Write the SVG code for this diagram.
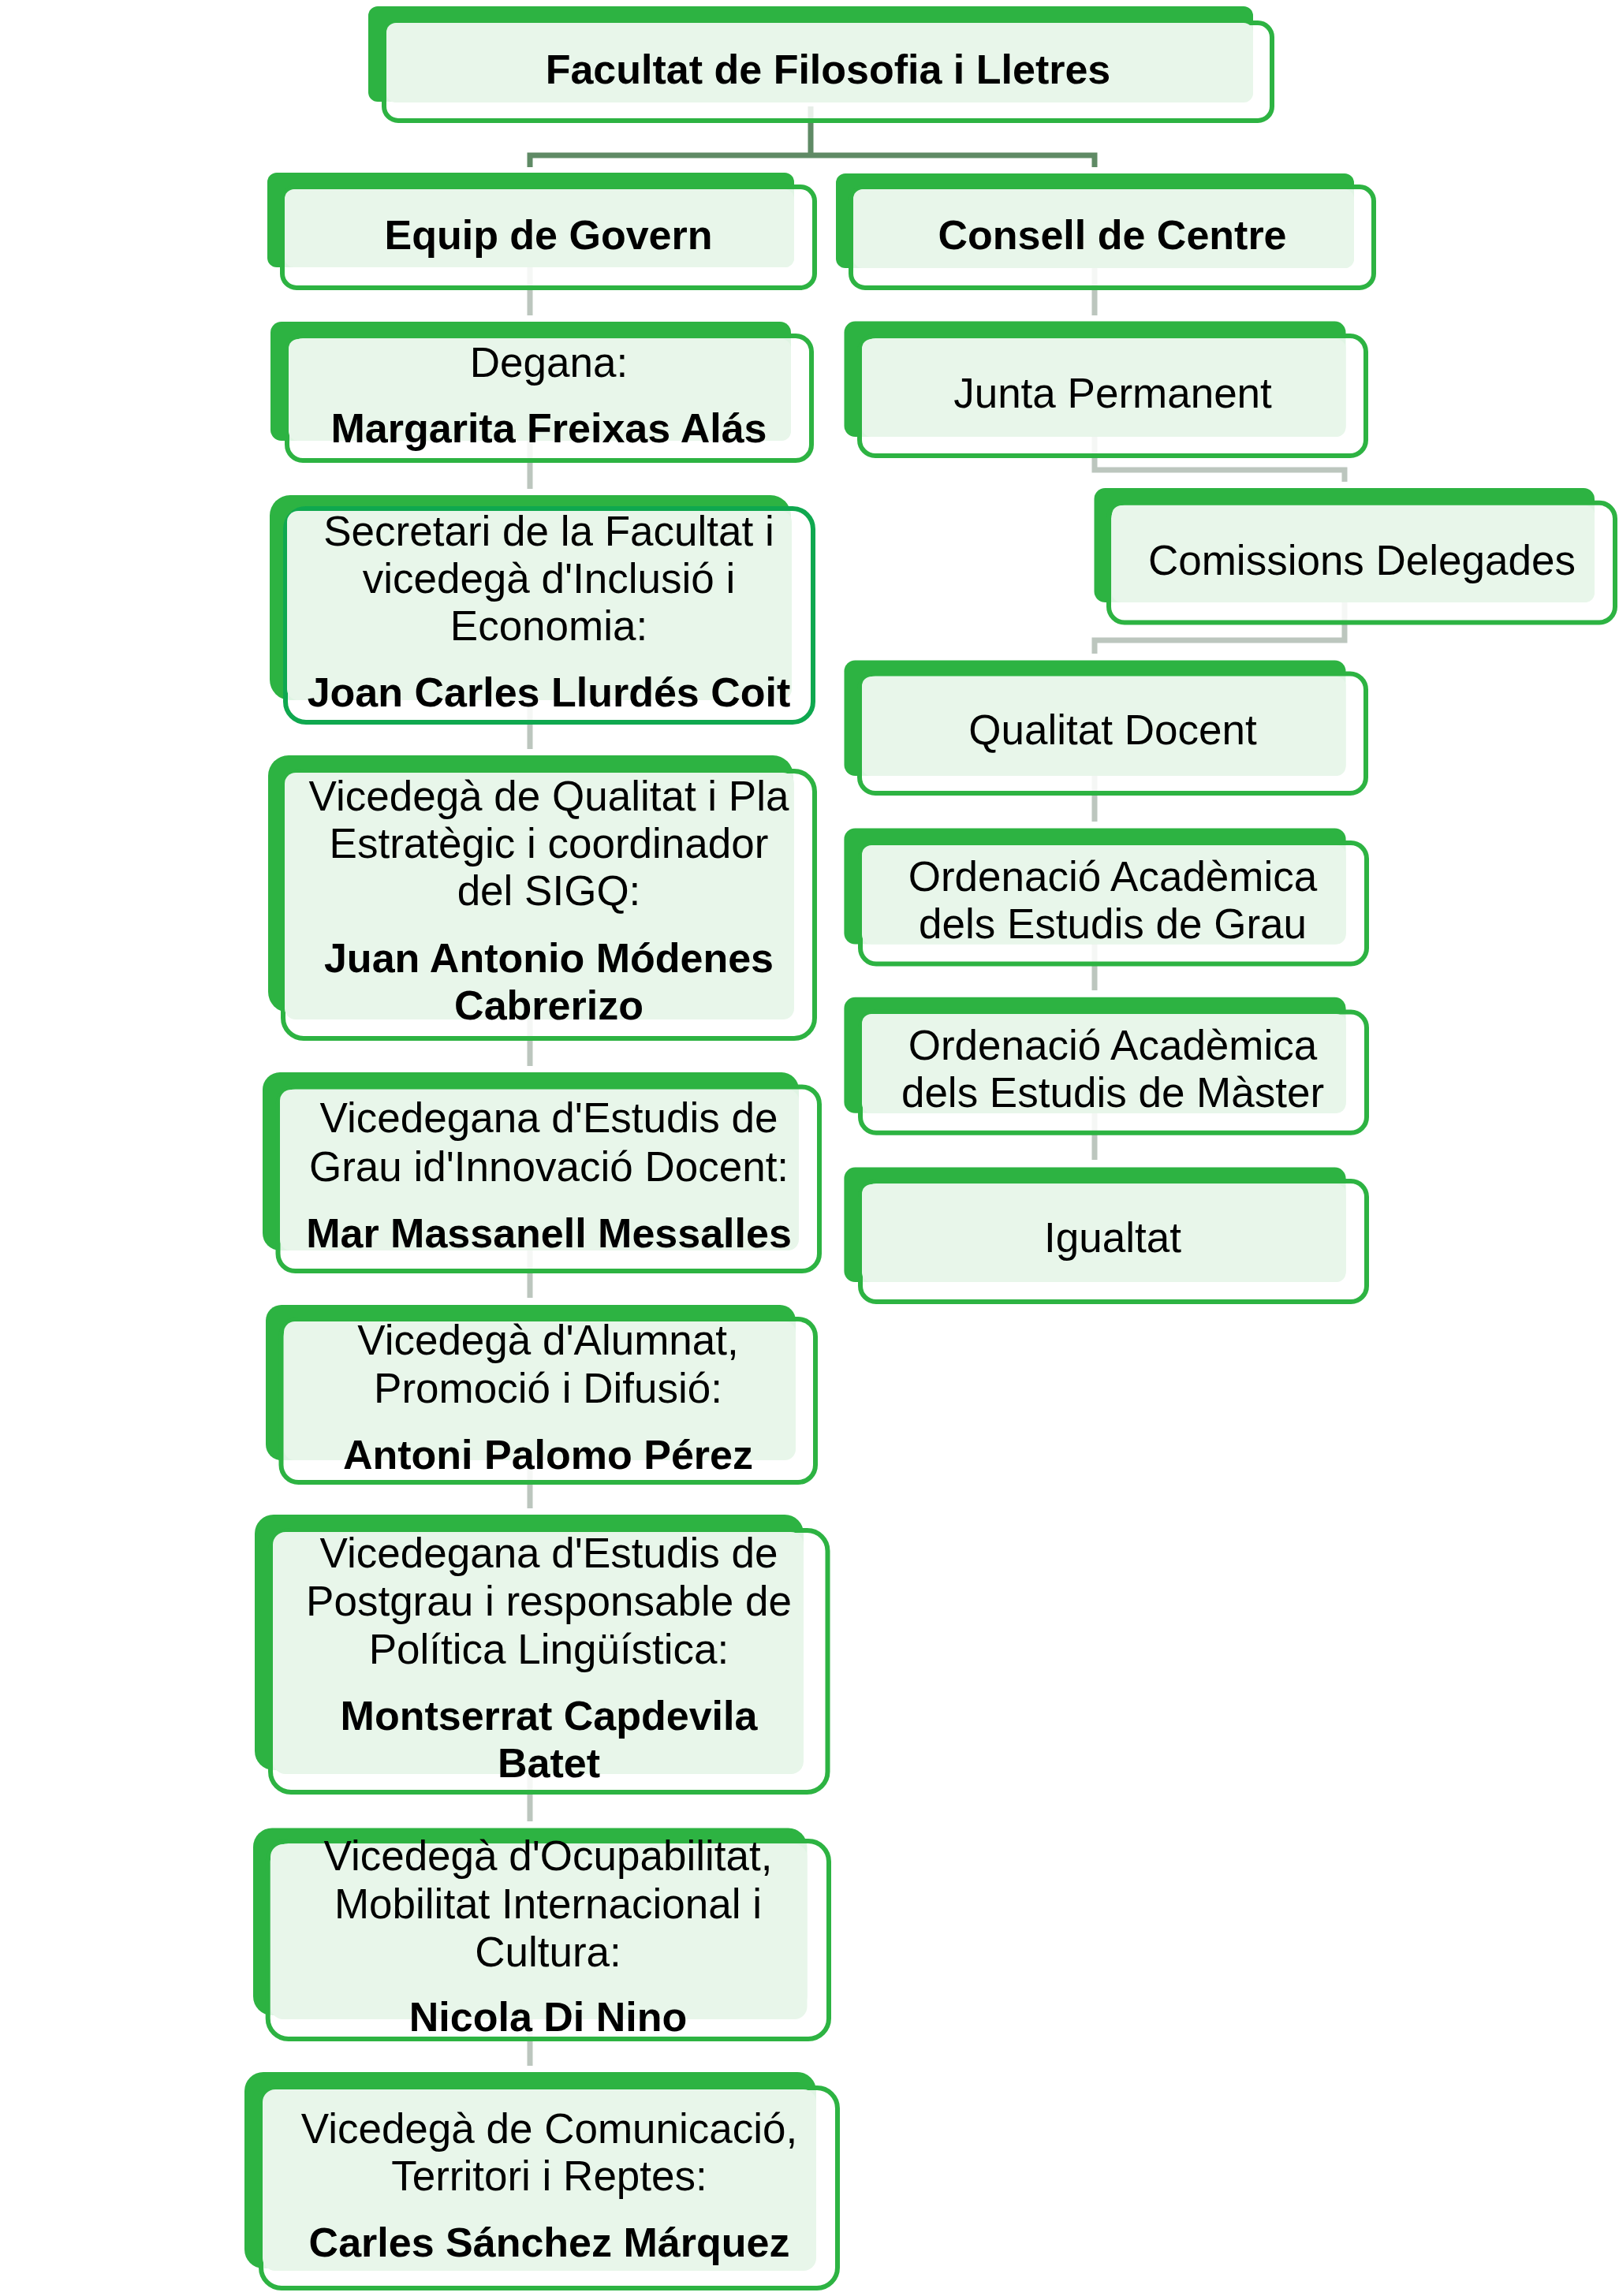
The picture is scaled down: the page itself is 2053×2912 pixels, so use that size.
<svg xmlns="http://www.w3.org/2000/svg" width="2053" height="2912" viewBox="0 0 2053 2912">
<style>
.d{fill:#2db342;}
.o{fill:#ffffff;fill-opacity:0.85;stroke:#2db342;stroke-width:6;}
.o2{fill:#ffffff;fill-opacity:0.85;stroke:#0fa84f;stroke-width:6;}
.l{fill:#e8f6ea;}
.t{font-family:"Liberation Sans",Arial,sans-serif;font-size:53px;fill:#000;text-anchor:middle;}
.b{font-weight:bold;font-size:52px;}
.c1{fill:none;stroke:#5f8a65;stroke-width:7;}
.c2{fill:none;stroke:#bcc6be;stroke-width:7;}
</style>
<rect width="2053" height="2912" fill="#ffffff"/>
<g id="connectors">
<path class="c1" d="M1028 135 V197 M672 212 V197 H1388 V212"/>
<path class="c2" d="M672 339 V400 M672 559 V620 M672 888 V950 M672 1290 V1352 M672 1586 V1646 M672 1852 V1913 M672 2250 V2310 M672 2561 V2620"/>
<path class="c2" d="M1388 340 V400 M1388 554 V596 H1705 V611 M1705 764 V812 H1388 V829 M1388 984 V1042 M1388 1197 V1256 M1388 1412 V1471"/>
</g>
<g id="n-facultat">
<rect class="d" x="467" y="8" width="1122" height="121" rx="12"/>
<rect class="o" x="487" y="29" width="1126" height="124" rx="18"/>
<rect class="l" x="490" y="29" width="1099" height="101" rx="12"/>
<text class="t b" x="1050" y="106">Facultat de Filosofia i Lletres</text>
</g>
<g id="n-equip">
<rect class="d" x="339" y="219" width="668" height="120" rx="12"/>
<rect class="o" x="358" y="237" width="675" height="128" rx="18"/>
<rect class="l" x="361" y="240" width="646" height="99" rx="12"/>
<text class="t b" x="695.5" y="316">Equip de Govern</text>
</g>
<g id="n-consell">
<rect class="d" x="1060" y="220" width="657" height="120" rx="12"/>
<rect class="o" x="1079" y="237" width="663" height="128" rx="18"/>
<rect class="l" x="1082" y="240" width="635" height="100" rx="12"/>
<text class="t b" x="1410.5" y="316">Consell de Centre</text>
</g>
<g id="n-degana">
<rect class="d" x="343" y="408" width="660" height="151" rx="14"/>
<rect class="o" x="364" y="426" width="665" height="158" rx="20"/>
<rect class="l" x="366" y="430" width="637" height="129" rx="12"/>
<text class="t" x="696" y="478">Degana:</text>
<text class="t b" x="696" y="561">Margarita Freixas Alás</text>
</g>
<g id="n-secretari">
<rect class="d" x="342" y="628" width="661" height="260" rx="26"/>
<rect class="o2" x="362" y="645" width="669" height="271" rx="26"/>
<rect class="l" x="364" y="648" width="640" height="240" rx="14"/>
<text class="t" x="696" y="692">Secretari de la Facultat i</text>
<text class="t" x="696" y="752">vicedegà d'Inclusió i</text>
<text class="t" x="696" y="812">Economia:</text>
<text class="t b" x="696" y="896">Joan Carles Llurdés Coit</text>
</g>
<g id="n-qualitat-pla">
<rect class="d" x="340" y="958" width="666" height="326" rx="26"/>
<rect class="o" x="359" y="978" width="674" height="339" rx="26"/>
<rect class="l" x="361" y="980" width="646" height="313" rx="14"/>
<text class="t" x="696" y="1028">Vicedegà de Qualitat i Pla</text>
<text class="t" x="696" y="1088">Estratègic i coordinador</text>
<text class="t" x="696" y="1148">del SIGQ:</text>
<text class="t b" x="696" y="1233">Juan Antonio Módenes</text>
<text class="t b" x="696" y="1293">Cabrerizo</text>
</g>
<g id="n-grau">
<rect class="d" x="333" y="1360" width="680" height="226" rx="22"/>
<rect class="o" x="352.5" y="1378.5" width="686.5" height="233.5" rx="22"/>
<rect class="l" x="355" y="1382" width="658" height="204" rx="14"/>
<text class="t" x="696" y="1436">Vicedegana d'Estudis de</text>
<text class="t" x="696" y="1498">Grau id'Innovació Docent:</text>
<text class="t b" x="696" y="1582">Mar Massanell Messalles</text>
</g>
<g id="n-alumnat">
<rect class="d" x="337" y="1655" width="672" height="197" rx="20"/>
<rect class="o" x="356.5" y="1673" width="677.5" height="207" rx="22"/>
<rect class="l" x="360" y="1676" width="649" height="176" rx="14"/>
<text class="t" x="695" y="1718">Vicedegà d'Alumnat,</text>
<text class="t" x="695" y="1779">Promoció i Difusió:</text>
<text class="t b" x="695" y="1863">Antoni Palomo Pérez</text>
</g>
<g id="n-postgrau">
<rect class="d" x="323" y="1921" width="696" height="324" rx="24"/>
<rect class="o" x="343" y="1941" width="706.5" height="332" rx="26"/>
<rect class="l" x="346" y="1943" width="673" height="307" rx="16"/>
<text class="t" x="696" y="1988">Vicedegana d'Estudis de</text>
<text class="t" x="696" y="2049">Postgrau i responsable de</text>
<text class="t" x="696" y="2110">Política Lingüística:</text>
<text class="t b" x="696" y="2194">Montserrat Capdevila</text>
<text class="t b" x="696" y="2254">Batet</text>
</g>
<g id="n-ocupabilitat">
<rect class="d" x="321" y="2318.5" width="702.5" height="237.5" rx="24"/>
<rect class="o" x="339.7" y="2335" width="711.3" height="251" rx="26"/>
<rect class="l" x="343" y="2339" width="680.5" height="222" rx="16"/>
<text class="t" x="695" y="2372">Vicedegà d'Ocupabilitat,</text>
<text class="t" x="695" y="2433">Mobilitat Internacional i</text>
<text class="t" x="695" y="2494">Cultura:</text>
<text class="t b" x="695" y="2576">Nicola Di Nino</text>
</g>
<g id="n-comunicacio">
<rect class="d" x="310" y="2628" width="725" height="249" rx="24"/>
<rect class="o" x="331" y="2648" width="731" height="254" rx="26"/>
<rect class="l" x="333" y="2650" width="702" height="230" rx="16"/>
<text class="t" x="696.5" y="2718">Vicedegà de Comunicació,</text>
<text class="t" x="696.5" y="2778">Territori i Reptes:</text>
<text class="t b" x="696.5" y="2862">Carles Sánchez Márquez</text>
</g>
<g id="n-junta">
<rect class="d" x="1070.5" y="407.6" width="636" height="146.4" rx="14"/>
<rect class="o" x="1090" y="426" width="642" height="152" rx="20"/>
<rect class="l" x="1093" y="430" width="613.5" height="124" rx="12"/>
<text class="t" x="1411" y="517">Junta Permanent</text>
</g>
<g id="n-comissions">
<rect class="d" x="1387.5" y="619" width="634.5" height="145" rx="14"/>
<rect class="o" x="1406" y="637.7" width="642" height="151.8" rx="20"/>
<rect class="l" x="1410" y="641" width="612" height="123" rx="12"/>
<text class="t" x="1727" y="729">Comissions Delegades</text>
</g>
<g id="n-qualitat-docent">
<rect class="d" x="1070.5" y="837.5" width="636" height="146.5" rx="14"/>
<rect class="o" x="1090" y="854.6" width="642" height="151.4" rx="20"/>
<rect class="l" x="1093" y="858" width="613.5" height="126" rx="12"/>
<text class="t" x="1411" y="944">Qualitat Docent</text>
</g>
<g id="n-ord-grau">
<rect class="d" x="1070.4" y="1050.5" width="636.2" height="147" rx="14"/>
<rect class="o" x="1091" y="1069" width="642" height="153.5" rx="20"/>
<rect class="l" x="1093" y="1072" width="613.6" height="125.4" rx="12"/>
<text class="t" x="1411" y="1130">Ordenació Acadèmica</text>
<text class="t" x="1411" y="1190">dels Estudis de Grau</text>
</g>
<g id="n-ord-master">
<rect class="d" x="1070.4" y="1264.8" width="636.2" height="147" rx="14"/>
<rect class="o" x="1091" y="1283.6" width="642" height="153.2" rx="20"/>
<rect class="l" x="1093" y="1286" width="613.6" height="125.7" rx="12"/>
<text class="t" x="1411" y="1344">Ordenació Acadèmica</text>
<text class="t" x="1411" y="1404">dels Estudis de Màster</text>
</g>
<g id="n-igualtat">
<rect class="d" x="1070.4" y="1480.6" width="636.2" height="145.4" rx="14"/>
<rect class="o" x="1091" y="1498" width="642" height="153" rx="20"/>
<rect class="l" x="1093" y="1502" width="613.6" height="124" rx="12"/>
<text class="t" x="1411" y="1588">Igualtat</text>
</g>
</svg>
